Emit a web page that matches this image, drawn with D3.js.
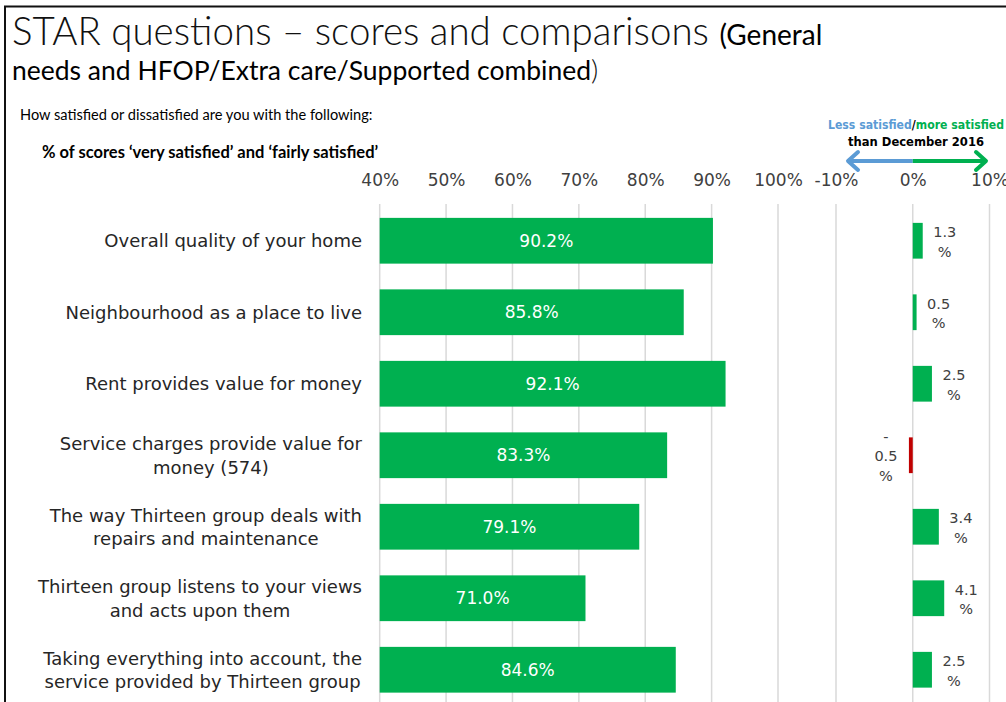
<!DOCTYPE html>
<html>
<head>
<meta charset="utf-8">
<script src="https://cdn.jsdelivr.net/npm/d3@7"></script>
<style>
  html, body { margin: 0; padding: 0; background: #fff; }
  svg { display: block; }
  .cal { font-family: Lato, "Open Sans", sans-serif; }
  .geo { font-family: "DejaVu Sans", sans-serif; }
</style>
</head>
<body>
<svg id="chart" width="1006" height="702"></svg>
<script>
// chart data
const categories = [
  "Overall quality of your home",
  "Neighbourhood as a place to live",
  "Rent provides value for money",
  "Service charges provide value for\nmoney (574)",
  "The way Thirteen group deals with\nrepairs and maintenance",
  "Thirteen group listens to your views\nand acts upon them",
  "Taking everything into account, the\nservice provided by Thirteen group"
];
const scores = [90.2, 85.8, 92.1, 83.3, 79.1, 71.0, 84.6];
const changes = [1.3, 0.5, 2.5, -0.5, 3.4, 4.1, 2.5];
const scoreTicks = [40, 50, 60, 70, 80, 90, 100];
const changeTicks = [-10, 0, 10];

const GREEN = "#00b050", RED = "#c00000", BLUE = "#5b9bd5", GRID = "#d9d9d9";

const svg = d3.select("#chart");

// frame
svg.append("path")
  .attr("d", "M5,702 V6.5 H1006")
  .attr("fill", "none")
  .attr("stroke", "#111")
  .attr("stroke-width", 2);

// titles
const t1 = svg.append("text").attr("class", "cal").attr("x", 12).attr("y", 45);
t1.append("tspan").attr("font-size", 38.5).attr("font-weight", 300).attr("fill", "#111")
  .text("STAR questions \u2013 scores and comparisons ");
t1.append("tspan").attr("font-size", 28).attr("fill", "#000").text("(General");
const t2 = svg.append("text").attr("class", "cal").attr("x", 12).attr("y", 80);
t2.append("tspan").attr("font-size", 26.5).attr("fill", "#000")
  .text("needs and HFOP/Extra care/Supported combined");
t2.append("tspan").attr("font-size", 28).attr("font-weight", 300).attr("fill", "#111").text(")");

svg.append("text").attr("class", "cal")
  .attr("x", 20).attr("y", 120)
  .attr("font-size", 14.6).attr("fill", "#000")
  .text("How satisfied or dissatisfied are you with the following:");
svg.append("text").attr("class", "cal")
  .attr("x", 42).attr("y", 158)
  .attr("font-size", 16.5).attr("font-weight", 700).attr("fill", "#000")
  .text("% of scores \u2018very satisfied\u2019 and \u2018fairly satisfied\u2019");

// scales
const x = d3.scaleLinear().domain([40, 100]).range([379.7, 778]);
const xc = d3.scaleLinear().domain([-10, 10]).range([836, 989.5]);
const y = d3.scaleBand().domain(categories).range([205, 705.5])
  .paddingInner(0.36).paddingOuter(0.18);
const yc = d3.scaleBand().domain(categories).range([205, 705.5])
  .paddingInner(0.5).paddingOuter(0.25);

const pct = d => d + "%";

// left axis
const axL = svg.append("g").attr("transform", "translate(0,204)")
  .call(d3.axisTop(x).tickValues(scoreTicks).tickFormat(pct).tickSize(0).tickPadding(0));
axL.select(".domain").remove();
axL.selectAll("text").attr("class", "geo").attr("font-size", 17).attr("fill", "#404040")
  .attr("y", -18).attr("dy", null);

// right axis
const axR = svg.append("g").attr("transform", "translate(0,204)")
  .call(d3.axisTop(xc).tickValues(changeTicks).tickFormat(pct).tickSize(0).tickPadding(0));
axR.select(".domain").remove();
axR.selectAll("text").attr("class", "geo").attr("font-size", 17).attr("fill", "#404040")
  .attr("y", -18).attr("dy", null);

// gridlines
svg.append("g").selectAll("line").data(scoreTicks).join("line")
  .attr("x1", d => x(d)).attr("x2", d => x(d))
  .attr("y1", 204).attr("y2", 702)
  .attr("stroke", GRID).attr("stroke-width", 1.5);
svg.append("g").selectAll("line").data(changeTicks).join("line")
  .attr("x1", d => xc(d)).attr("x2", d => xc(d))
  .attr("y1", 204).attr("y2", 702)
  .attr("stroke", GRID).attr("stroke-width", 1.5);

// score bars
const rows = categories.map((c, i) => ({cat: c, score: scores[i], change: changes[i]}));
svg.append("g").selectAll("rect").data(rows).join("rect")
  .attr("x", x(40))
  .attr("y", d => y(d.cat))
  .attr("width", d => x(d.score) - x(40))
  .attr("height", y.bandwidth())
  .attr("fill", GREEN);
svg.append("g").selectAll("text").data(rows).join("text")
  .attr("class", "geo")
  .attr("x", d => (x(40) + x(d.score)) / 2)
  .attr("y", d => y(d.cat) + y.bandwidth() / 2 + 6)
  .attr("text-anchor", "middle")
  .attr("font-size", 17).attr("fill", "#fff")
  .text(d => d.score.toFixed(1) + "%");

// category labels: lines centred on each other, block right-aligned at 362
const labels = svg.append("g").selectAll("g").data(rows).join("g");
labels.each(function (d) {
  const g = d3.select(this);
  const lines = d.cat.split("\n");
  const cy = y(d.cat) + y.bandwidth() / 2;
  const texts = lines.map((l, i) => g.append("text")
    .attr("class", "geo")
    .attr("y", cy + (i - (lines.length - 1) / 2) * 23.5 + 6.5)
    .attr("font-size", 18).attr("fill", "#262626")
    .attr("text-anchor", "middle")
    .text(l));
  const w = d3.max(texts, t => t.node().getComputedTextLength());
  texts.forEach(t => t.attr("x", 362 - w / 2));
});

// change bars
svg.append("g").selectAll("rect").data(rows).join("rect")
  .attr("x", d => xc(Math.min(0, d.change)))
  .attr("y", d => yc(d.cat))
  .attr("width", d => Math.abs(xc(d.change) - xc(0)))
  .attr("height", yc.bandwidth())
  .attr("fill", d => d.change < 0 ? RED : GREEN);

// change labels, wrapped like the original narrow data labels
const changeLabels = svg.append("g").selectAll("g").data(rows).join("g");
changeLabels.each(function (d) {
  const g = d3.select(this);
  const num = Math.abs(d.change).toFixed(1);
  const lines = d.change < 0 ? ["-", num, "%"] : [num, "%"];
  const cy = yc(d.cat) + yc.bandwidth() / 2;
  const cx = d.change < 0 ? xc(d.change) - 23 : xc(d.change) + 22;
  lines.forEach((l, i) => g.append("text")
    .attr("class", "geo")
    .attr("x", cx)
    .attr("y", cy + (i - (lines.length - 1) / 2) * 19.5 + 6)
    .attr("text-anchor", "middle")
    .attr("font-size", 14.5).attr("fill", "#404040")
    .text(l));
});

// direction legend
const leg = svg.append("text").attr("class", "geo")
  .attr("x", 828).attr("y", 129)
  .attr("font-size", 12).attr("font-weight", 700)
  .attr("textLength", 176).attr("lengthAdjust", "spacingAndGlyphs");
leg.append("tspan").attr("fill", BLUE).text("Less satisfied");
leg.append("tspan").attr("fill", "#000").text("/");
leg.append("tspan").attr("fill", GREEN).text("more satisfied");
svg.append("text").attr("class", "geo")
  .attr("x", 848).attr("y", 146)
  .attr("font-size", 12).attr("font-weight", 700).attr("fill", "#000")
  .attr("textLength", 136).attr("lengthAdjust", "spacingAndGlyphs")
  .text("than December 2016");

const ay = 161;
svg.append("line").attr("x1", 848).attr("x2", xc(0)).attr("y1", ay).attr("y2", ay)
  .attr("stroke", BLUE).attr("stroke-width", 4);
svg.append("line").attr("x1", xc(0)).attr("x2", 985).attr("y1", ay).attr("y2", ay)
  .attr("stroke", GREEN).attr("stroke-width", 4);
svg.append("path").attr("d", `M858,${ay - 9} L848,${ay} L858,${ay + 9}`)
  .attr("fill", "none").attr("stroke", BLUE).attr("stroke-width", 4)
  .attr("stroke-linecap", "round").attr("stroke-linejoin", "round");
svg.append("path").attr("d", `M976,${ay - 9} L986,${ay} L976,${ay + 9}`)
  .attr("fill", "none").attr("stroke", GREEN).attr("stroke-width", 4)
  .attr("stroke-linecap", "round").attr("stroke-linejoin", "round");
</script>
</body>
</html>
